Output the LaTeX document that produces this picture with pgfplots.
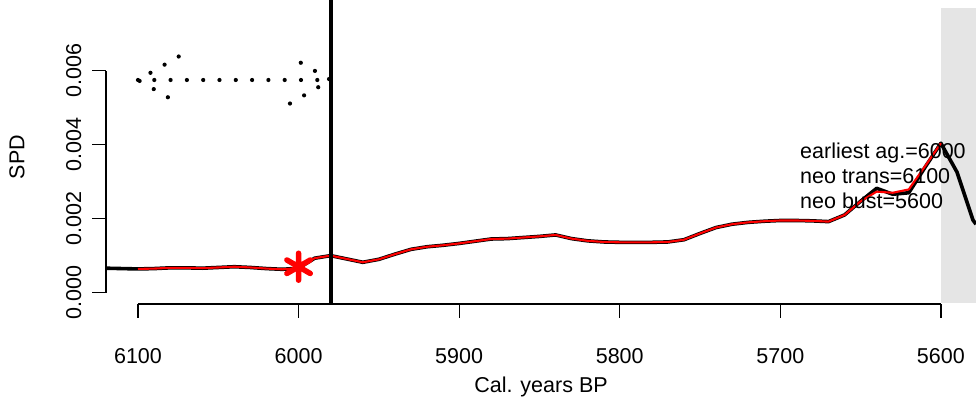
\documentclass[border=0pt]{standalone}
\usepackage{fontspec}
\setmainfont{Liberation Sans}
\usepackage{pgfplots}
\pgfplotsset{compat=1.18}
\definecolor{shade}{RGB}{229,229,229}
\pgfplotstableread{
yr spd
6119.93 0.00066
6110 0.00065
6100 0.00064
6090 0.00065
6080 0.00067
6070 0.00067
6060 0.00066
6050 0.00068
6040 0.00070
6030 0.00068
6020 0.00065
6010 0.00063
6000 0.00066
5990 0.00093
5980 0.00100
5970 0.00091
5960 0.00082
5950 0.00090
5940 0.00104
5930 0.00117
5920 0.00124
5910 0.00128
5900 0.00133
5890 0.00139
5880 0.00145
5870 0.00146
5860 0.00149
5850 0.00152
5840 0.00156
5830 0.00146
5820 0.00140
5810 0.00137
5800 0.00136
5790 0.00136
5780 0.00136
5770 0.00137
5760 0.00143
5750 0.00160
5740 0.00176
5730 0.00185
5720 0.00190
5710 0.00193
5700 0.00195
5690 0.00195
5680 0.00194
5670 0.00192
5660 0.00210
5650 0.00247
5640 0.00282
5630 0.00266
5620 0.00270
5610 0.00338
5600 0.00404
5590 0.00326
5580 0.00196
5578.14 0.00185
}\blackspd
\pgfplotstableread{
yr spd
6100 0.00064
6090 0.00065
6080 0.00067
6070 0.00067
6060 0.00066
6050 0.00068
6040 0.00070
6030 0.00068
6020 0.00065
6010 0.00063
6000 0.00066
5990 0.00093
5980 0.00100
5970 0.00091
5960 0.00082
5950 0.00090
5940 0.00104
5930 0.00117
5920 0.00124
5910 0.00128
5900 0.00133
5890 0.00139
5880 0.00145
5870 0.00146
5860 0.00149
5850 0.00152
5840 0.00156
5830 0.00146
5820 0.00140
5810 0.00137
5800 0.00136
5790 0.00136
5780 0.00136
5770 0.00137
5760 0.00143
5750 0.00160
5740 0.00176
5730 0.00185
5720 0.00190
5710 0.00193
5700 0.00195
5690 0.00195
5680 0.00194
5670 0.00192
5660 0.00210
5650 0.00247
5640 0.00273
5630 0.00270
5620 0.00279
5610 0.00341
5600 0.00404
}\redspd
\begin{document}
\fontsize{21.5}{25.8}\selectfont
\begin{tikzpicture}
\useasboundingbox (0,0) rectangle (976pt,413pt);
\begin{axis}[
  at={(106pt,109pt)}, anchor=south west,
  scale only axis, width=870pt, height=304pt,
  x dir=reverse, xmin=5578.14, xmax=6119.93,
  ymin=-0.000308, ymax=0.007912,
  clip=false,
  axis line style={draw=none},
  xtick={5600,5700,5800,5900,6000,6100},
  ytick={0,0.002,0.004,0.006},
  xtick pos=bottom, ytick pos=left,
  tick align=outside,
  major tick length=13.5pt,
  tick style={black, line width=1.3pt},
  scaled y ticks=false,
  tick label style={font=\fontsize{21.5}{25.8}\selectfont, /pgf/number format/assume math mode=true},
  xticklabel style={/pgf/number format/1000 sep={}, anchor=north, inner sep=0pt},
  xticklabel shift=31pt,
  yticklabel style={/pgf/number format/fixed, /pgf/number format/fixed zerofill, /pgf/number format/precision=3, xshift=9pt, rotate=90, anchor=south, inner sep=0pt},
  yticklabel shift=20pt,
  xlabel={Cal. years BP},
  xlabel style={at={(axis description cs:0.5,-0.2730)}, anchor=center, font=\fontsize{21.5}{25.8}\selectfont},
  ylabel={SPD},
  ylabel style={at={(axis description cs:-0.1023,0.4836)}, anchor=center, font=\fontsize{21.5}{25.8}\selectfont},
]
% grey shaded region
\addplot[fill=shade, draw=none, no marks] coordinates {(5600,-0.000284) (5578.14,-0.000284) (5578.14,0.007695) (5600,0.007695)} -- cycle;
% axis lines
\addplot[black, line width=1.3pt, no marks] coordinates {(6100,-0.000308) (5600,-0.000308)};
\addplot[black, line width=1.3pt, no marks] coordinates {(6119.93,0) (6119.93,0.006)};
% SPD curves
\addplot[black, line width=3.6pt, no marks, line join=round] table[x=yr, y=spd] {\blackspd};
\addplot[red, line width=2.1pt, no marks, line join=round] table[x=yr, y=spd] {\redspd};
% vertical line
\addplot[black, line width=4pt, no marks] coordinates {(5980,-0.000284) (5980,0.007912)};
% asterisk
\addplot[red, only marks, mark=asterisk, mark size=13.5pt, line width=5.5pt, mark options={line cap=round}] coordinates {(6000,0.00070)};
% dotted double arrow
\addplot[black, line width=4.2pt, line cap=round, dash pattern=on 0pt off 16.3pt, no marks] coordinates {(6100,0.005749) (5980,0.005749)};
\addplot[black, line width=4.2pt, line cap=round, dash pattern=on 0pt off 16.3pt, no marks] coordinates {(6074.65,0.006384) (6100,0.005749) (6074.65,0.005113)};
\addplot[black, line width=4.2pt, line cap=round, dash pattern=on 0pt off 16.3pt, no marks] coordinates {(6005.35,0.005113) (5980,0.005749) (6005.35,0.006384)};
% annotations
\node[anchor=base west, inner sep=0pt, font=\fontsize{21.5}{25.8}\selectfont] at (axis cs:5687.75,0.003631) {earliest ag.=6000};
\node[anchor=base west, inner sep=0pt, font=\fontsize{21.5}{25.8}\selectfont] at (axis cs:5687.75,0.002955) {neo trans=6100};
\node[anchor=base west, inner sep=0pt, font=\fontsize{21.5}{25.8}\selectfont] at (axis cs:5687.75,0.002279) {neo bust=5600};
\end{axis}
\end{tikzpicture}
\end{document}
